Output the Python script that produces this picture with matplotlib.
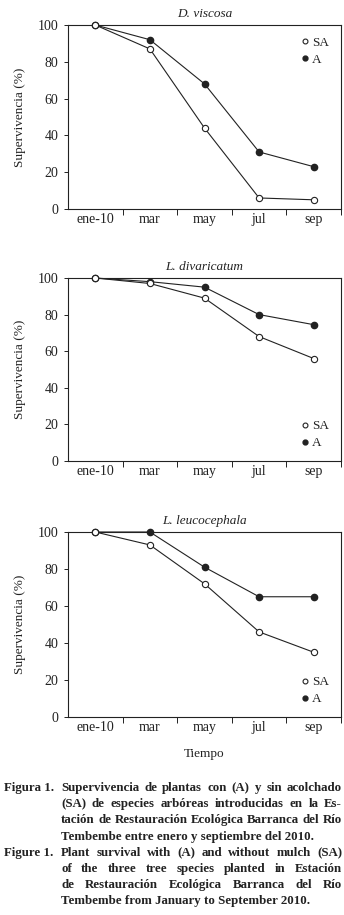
import matplotlib
matplotlib.use("Agg")
import matplotlib.pyplot as plt
from matplotlib.lines import Line2D

plt.rcParams['font.family'] = ['Liberation Serif', 'DejaVu Serif']

months = ["ene-10", "mar", "may", "jul", "sep"]
species = ["D. viscosa", "L. divaricatum", "L. leucocephala"]

viscosa_sa = [100, 87, 44, 6, 5]
viscosa_a = [100, 92, 68, 31, 23]
divaricatum_sa = [100, 97, 89, 68, 56]
divaricatum_a = [100, 98, 95, 80, 74.5]
leucocephala_sa = [100, 93, 72, 46, 35]
leucocephala_a = [100, 100, 81, 65, 65]

series = [(viscosa_sa, viscosa_a), (divaricatum_sa, divaricatum_a),
          (leucocephala_sa, leucocephala_a)]
legend_loc = ["upper right", "lower right", "lower right"]

ink = "#222222"
fs = 9.5
tfs = 10
fig = plt.figure(figsize=(3.44, 9.15), dpi=100)

# axes boxes in pixels: top, bottom
boxes = [(25, 209), (278, 461), (532, 717)]
W, H = 344, 915
x = list(range(len(months)))

for i, (sp, (sa, a)) in enumerate(zip(species, series)):
    top, bot = boxes[i]
    ax = fig.add_axes([68 / W, 1 - bot / H, 273 / W, (bot - top) / H])
    ax.plot(x, a, color=ink, lw=0.8, marker="o", ms=4.5, mfc=ink, mec=ink, clip_on=False, zorder=3)
    ax.plot(x, sa, color=ink, lw=0.8, marker="o", ms=4.5, mfc="white", mec=ink, mew=0.8, clip_on=False, zorder=4)
    ax.set_xlim(-0.5, 4.5)
    ax.set_ylim(0, 100)
    ax.set_yticks([0, 20, 40, 60, 80, 100])
    ax.set_xticks(x)
    ax.set_xticklabels(months)
    ax.set_xticks([0.5, 1.5, 2.5, 3.5, 4.5], minor=True)
    ax.tick_params(axis="x", which="major", length=0, pad=3, labelsize=tfs, colors=ink)
    ax.tick_params(axis="x", which="minor", length=4, width=0.7, color=ink)
    ax.tick_params(axis="y", length=3, width=0.7, labelsize=tfs, colors=ink, pad=4)
    for s in ax.spines.values():
        s.set_linewidth(0.8)
        s.set_color(ink)
    ax.set_title(sp, style="italic", fontsize=fs, color=ink, pad=6)
    ax.set_ylabel("Supervivencia (%)", fontsize=fs, color=ink, labelpad=8)
    handles = [Line2D([], [], ls="none", marker="o", ms=3.5, mfc="white", mec=ink, mew=0.8),
               Line2D([], [], ls="none", marker="o", ms=3.5, mfc=ink, mec=ink)]
    ax.legend(handles, ["SA", "A"], loc=legend_loc[i], frameon=False, fontsize=fs,
              handlelength=0.5, handletextpad=0.3, labelspacing=0.35, borderaxespad=0.5,
              labelcolor=ink)
    if i == 2:
        ax.set_xlabel("Tiempo", fontsize=fs, color=ink, labelpad=10)

# caption, justified by hand
caption = [
    ("Figura 1.", "Supervivencia de plantas con (A) y sin acolchado", True),
    (None, "(SA) de especies arbóreas introducidas en la Es-", True),
    (None, "tación de Restauración Ecológica Barranca del Río", True),
    (None, "Tembembe entre enero y septiembre del 2010.", False),
    ("Figure 1.", "Plant survival with (A) and without mulch (SA)", True),
    (None, "of the three tree species planted in Estación", True),
    (None, "de Restauración Ecológica Barranca del Río", True),
    (None, "Tembembe from January to September 2010.", False),
]
renderer = fig.canvas.get_renderer()
x0, x1 = 61 / W, 342 / W
cap_kw = dict(fontsize=9.3, fontweight="bold", color=ink, va="baseline")
for k, (lead, line, justify) in enumerate(caption):
    y = 1 - (791 + k * 16.2) / H
    if lead:
        fig.text(4 / W, y, lead, **cap_kw)
    words = line.split()
    if not justify:
        fig.text(x0, y, line, **cap_kw)
        continue
    texts = [fig.text(x0, y, w, **cap_kw) for w in words]
    widths = [t.get_window_extent(renderer).width / fig.bbox.width for t in texts]
    gap = (x1 - x0 - sum(widths)) / (len(words) - 1)
    pos = x0
    for t, w in zip(texts, widths):
        t.set_x(pos)
        pos += w + gap

fig.savefig("out.png", dpi=100)
